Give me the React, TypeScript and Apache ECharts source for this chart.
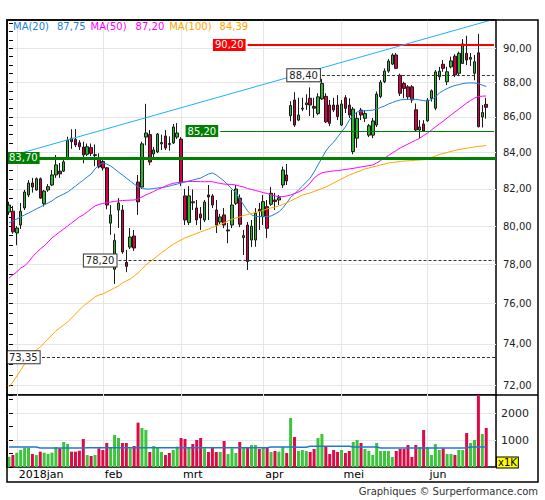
import React, { useEffect, useRef } from "react";
import * as echarts from "echarts";

// ---------- categories (trading days) ----------
const YEAR_MONTHS = ["2017-12", "2018-01", "2018-02", "2018-03", "2018-04", "2018-05", "2018-06"];
const TRADING_DAYS = [
  [28, 29],
  [2, 3, 4, 5, 8, 9, 10, 11, 12, 15, 16, 17, 18, 19, 22, 23, 24, 25, 26, 29, 30, 31],
  [1, 2, 5, 6, 7, 8, 9, 12, 13, 14, 15, 16, 19, 20, 21, 22, 23, 26, 27, 28],
  [1, 2, 5, 6, 7, 8, 9, 12, 13, 14, 15, 16, 19, 20, 21, 22, 23, 26, 27, 28, 29],
  [3, 4, 5, 6, 9, 10, 11, 12, 13, 16, 17, 18, 19, 20, 23, 24, 25, 26, 27, 30],
  [2, 3, 4, 7, 8, 9, 10, 11, 14, 15, 16, 17, 18, 21, 22, 23, 24, 25, 28, 29, 30, 31],
  [1, 4, 5, 6, 7, 8, 11, 12, 13, 14, 15, 18, 19, 20, 21, 22, 25, 26],
];
const MONTH_LABELS = ["2018jan", "feb", "mrt", "apr", "mei", "jun"];

// ---------- price data ----------
const OPEN = [
  80.75, 80.80, 79.64, 80.06, 80.97, 81.67, 82.32, 81.94, 82.55, 81.20,
  81.94, 82.21, 82.76, 82.97, 82.97, 83.69, 84.80, 84.73, 84.54, 84.30,
  83.90, 84.27, 83.83, 83.67, 83.50, 83.15, 80.16, 77.75, 80.86, 80.86,
  78.10, 78.90, 79.48, 82.37, 82.10, 84.86, 85.00, 83.92, 84.03, 84.48,
  84.92, 84.50, 84.53, 84.86, 84.75, 81.62, 80.20, 81.30, 80.97, 80.65,
  80.33, 81.67, 81.62, 80.86, 80.22, 80.60, 79.75, 80.06, 81.22, 81.50,
  79.40, 80.06, 79.27, 79.27, 80.90, 80.51, 81.04, 81.17, 81.40, 81.40,
  82.21, 82.76, 86.07, 86.97, 85.82, 86.45, 86.70, 87.07, 86.60, 86.19,
  87.03, 87.18, 86.68, 86.68, 86.68, 85.54, 87.10, 86.68, 84.05, 84.80,
  86.39, 85.92, 84.97, 84.97, 85.54, 87.17, 88.03, 88.65, 89.06, 89.60,
  88.40, 87.93, 87.73, 87.73, 86.41, 85.26, 85.60, 85.78, 87.07, 86.50,
  88.32, 89.05, 88.03, 88.90, 89.53, 88.52, 89.10, 89.70, 89.35, 88.52,
  89.73, 86.00, 86.72,
];
const HIGH = [
  81.30, 81.08, 80.00, 81.24, 81.94, 82.48, 82.60, 82.62, 82.62, 81.94,
  82.26, 83.03, 83.86, 83.42, 83.58, 84.88, 85.30, 85.31, 84.69, 84.60,
  84.50, 84.50, 84.45, 83.95, 83.70, 83.20, 81.13, 79.60, 81.50, 81.13,
  78.75, 79.90, 79.80, 82.76, 84.60, 86.75, 85.26, 84.30, 85.09, 85.00,
  85.26, 84.90, 85.60, 85.65, 84.86, 82.00, 82.15, 81.97, 81.40, 81.02,
  81.40, 82.21, 81.72, 81.40, 80.65, 80.97, 80.17, 81.94, 82.21, 81.70,
  79.80, 80.22, 80.33, 80.96, 81.24, 81.67, 81.40, 82.10, 81.78, 81.67,
  83.22, 83.36, 86.90, 87.42, 87.10, 87.10, 87.30, 87.70, 87.10, 87.36,
  88.20, 87.36, 86.97, 87.10, 87.25, 86.97, 87.25, 87.07, 86.57, 86.28,
  86.51, 86.39, 85.60, 85.94, 87.46, 88.12, 88.81, 89.36, 89.70, 89.72,
  88.50, 88.03, 87.83, 87.83, 86.77, 85.82, 85.82, 87.08, 87.58, 88.71,
  88.90, 89.30, 88.90, 89.50, 89.65, 89.80, 90.55, 90.75, 89.72, 89.60,
  90.86, 86.68, 87.09,
];
const LOW = [
  80.60, 79.60, 79.00, 79.85, 80.86, 81.56, 81.80, 81.90, 81.45, 81.05,
  81.84, 82.15, 82.60, 82.60, 82.92, 83.58, 84.20, 84.30, 84.14, 83.40,
  83.80, 83.80, 83.25, 83.12, 83.00, 80.90, 79.54, 77.00, 79.90, 78.55,
  77.60, 78.80, 78.70, 80.60, 82.00, 84.40, 83.30, 83.58, 83.97, 84.14,
  84.14, 84.10, 84.47, 84.75, 82.15, 80.06, 80.06, 80.86, 80.06, 79.80,
  80.22, 80.33, 80.97, 79.64, 80.11, 79.90, 79.10, 79.90, 81.13, 79.95,
  78.49, 77.71, 78.90, 78.92, 79.80, 80.06, 79.38, 81.08, 80.86, 81.13,
  82.05, 82.21, 85.76, 85.43, 85.76, 86.33, 86.40, 86.05, 85.95, 86.10,
  86.97, 85.65, 85.48, 86.28, 85.82, 85.48, 86.22, 85.94, 83.90, 84.26,
  85.82, 85.71, 84.86, 84.80, 85.43, 87.07, 87.95, 88.55, 89.00, 88.77,
  87.20, 87.07, 86.97, 86.80, 85.17, 84.80, 85.17, 85.72, 86.88, 86.39,
  88.12, 88.61, 87.83, 88.81, 88.30, 88.42, 89.06, 89.00, 88.95, 88.12,
  85.40, 85.40, 85.90,
];
const CLOSE = [
  81.13, 79.70, 79.90, 80.80, 81.83, 82.32, 82.10, 82.55, 81.50, 81.88,
  82.12, 82.76, 83.31, 82.82, 83.48, 84.69, 84.60, 84.42, 84.32, 83.86,
  84.32, 83.95, 83.88, 83.20, 83.14, 81.13, 80.60, 79.25, 81.24, 78.65,
  77.90, 79.43, 78.85, 81.30, 84.48, 85.09, 83.47, 84.14, 85.03, 84.56,
  84.25, 84.45, 85.43, 85.09, 82.37, 80.33, 81.62, 81.25, 80.33, 80.44,
  81.29, 81.56, 81.13, 80.06, 80.49, 80.06, 79.80, 81.13, 81.99, 80.10,
  79.50, 78.15, 80.00, 80.69, 80.80, 81.31, 79.89, 81.76, 81.32, 81.52,
  83.03, 82.43, 86.65, 85.54, 86.11, 86.50, 86.80, 86.68, 86.50, 87.15,
  87.93, 85.72, 85.64, 86.40, 86.02, 86.74, 86.49, 86.11, 86.45, 85.92,
  86.11, 86.20, 85.50, 85.77, 87.31, 88.00, 88.65, 89.24, 89.60, 88.81,
  87.36, 87.64, 87.15, 86.97, 85.26, 85.43, 85.20, 86.97, 87.50, 88.60,
  88.65, 88.81, 88.61, 89.25, 88.42, 89.70, 90.26, 89.30, 89.45, 89.20,
  85.45, 86.25, 86.55,
];

const MA20 = [
  80.17, 80.28, 80.38, 80.49, 80.60, 80.70, 80.81, 80.92, 81.02, 81.13,
  81.24, 81.35, 81.51, 81.62, 81.72, 81.83, 81.99, 82.15, 82.32, 82.48,
  82.65, 82.81, 83.09, 83.31, 83.42, 83.36, 83.25, 83.09, 82.92, 82.76,
  82.59, 82.43, 82.26, 82.10, 82.05, 81.99, 81.99, 82.02, 82.05, 82.07,
  82.10, 82.15, 82.21, 82.26, 82.32, 82.37, 82.43, 82.48, 82.54, 82.59,
  82.70, 82.81, 82.87, 82.76, 82.59, 82.43, 82.21, 81.99, 81.78, 81.46,
  81.13, 80.81, 80.60, 80.52, 80.51, 80.51, 80.51, 80.54, 80.65, 80.76,
  80.97, 81.24, 81.54, 81.72, 81.94, 82.15, 82.37, 82.59, 82.92, 83.31,
  83.69, 84.08, 84.36, 84.58, 84.86, 85.15, 85.43, 85.82, 86.11, 86.28,
  86.33, 86.35, 86.37, 86.39, 86.45, 86.54, 86.62, 86.74, 86.82, 86.91,
  86.97, 87.00, 87.01, 87.01, 87.00, 86.97, 86.93, 86.91, 87.00, 87.14,
  87.37, 87.51, 87.63, 87.73, 87.81, 87.86, 87.92, 87.95, 87.96, 87.95,
  87.92, 87.83, 87.75,
];
const MA50 = [
  77.30, 77.46, 77.61, 77.82, 77.92, 78.13, 78.39, 78.60, 78.80, 78.96,
  79.17, 79.38, 79.54, 79.70, 79.85, 80.01, 80.17, 80.33, 80.49, 80.60,
  80.76, 80.92, 81.08, 81.16, 81.21, 81.26, 81.29, 81.32, 81.35, 81.37,
  81.38, 81.39, 81.40, 81.45, 81.56, 81.67, 81.76, 81.86, 81.97, 82.05,
  82.15, 82.24, 82.30, 82.34, 82.37, 82.39, 82.40, 82.40, 82.40, 82.39,
  82.39, 82.39, 82.39, 82.34, 82.30, 82.26, 82.25, 82.24, 82.21, 82.15,
  82.10, 82.02, 81.97, 81.91, 81.86, 81.80, 81.75, 81.67, 81.62, 81.58,
  81.58, 81.62, 81.67, 81.75, 81.83, 81.94, 82.10, 82.32, 82.59, 82.76,
  82.87, 82.92, 82.95, 82.98, 83.00, 83.03, 83.06, 83.09, 83.12, 83.16,
  83.20, 83.23, 83.27, 83.31, 83.42, 83.55, 83.69, 83.83, 83.97, 84.11,
  84.25, 84.36, 84.47, 84.58, 84.69, 84.80, 84.95, 85.09, 85.26, 85.43,
  85.60, 85.76, 85.94, 86.11, 86.28, 86.45, 86.62, 86.80, 86.94, 87.08,
  87.17, 87.19, 87.20,
];
const MA100 = [
  71.92, 72.16, 72.44, 72.73, 73.02, 73.32, 73.51, 73.70, 73.85, 74.04,
  74.24, 74.44, 74.64, 74.79, 74.94, 75.08, 75.28, 75.48, 75.68, 75.88,
  76.03, 76.18, 76.34, 76.44, 76.49, 76.59, 76.69, 76.80, 76.90, 77.05,
  77.15, 77.25, 77.40, 77.56, 77.77, 77.97, 78.13, 78.28, 78.44, 78.60,
  78.75, 78.91, 79.04, 79.17, 79.27, 79.38, 79.46, 79.54, 79.62, 79.70,
  79.77, 79.85, 79.93, 80.01, 80.09, 80.17, 80.28, 80.36, 80.44, 80.49,
  80.57, 80.62, 80.68, 80.73, 80.78, 80.84, 80.92, 80.97, 81.02, 81.08,
  81.16, 81.24, 81.35, 81.45, 81.56, 81.67, 81.72, 81.78, 81.86, 81.94,
  82.02, 82.10, 82.21, 82.32, 82.43, 82.54, 82.65, 82.76, 82.84, 82.92,
  83.00, 83.09, 83.14, 83.20, 83.25, 83.31, 83.36, 83.42, 83.44, 83.47,
  83.50, 83.53, 83.54, 83.55, 83.57, 83.58, 83.60, 83.64, 83.72, 83.80,
  83.89, 83.94, 84.00, 84.06, 84.11, 84.16, 84.20, 84.24, 84.28, 84.31,
  84.34, 84.36, 84.39,
];

// ---------- volume data (x1000) ----------
const VOLUME = [
  383, 444, 531, 630, 716, 716, 481, 444, 568, 531,
  481, 531, 741, 691, 926, 852, 568, 568, 605, 1037,
  444, 407, 444, 691, 630, 889, 716, 1185, 1074, 889,
  889, 691, 778, 1642, 1444, 1370, 556, 778, 741, 556,
  444, 519, 630, 753, 1074, 1037, 716, 852, 1000, 1074,
  691, 556, 741, 556, 556, 963, 481, 691, 519, 926,
  741, 741, 815, 815, 667, 741, 716, 556, 593, 568,
  741, 519, 1815, 1111, 593, 630, 593, 556, 667, 1074,
  1222, 753, 481, 630, 556, 630, 519, 593, 926, 1000,
  889, 667, 593, 444, 889, 593, 593, 593, 370, 593,
  667, 667, 815, 370, 815, 741, 1370, 741, 444, 852,
  630, 691, 481, 481, 444, 630, 630, 1259, 889, 1000,
  2750, 1222, 1444,
];
const VOLUME_AVG = [
  741, 741, 741, 741, 741, 741, 741, 741, 704, 704,
  704, 704, 704, 704, 704, 704, 704, 704, 704, 704,
  716, 716, 716, 716, 716, 716, 716, 716, 716, 716,
  716, 716, 716, 716, 716, 716, 716, 716, 716, 716,
  716, 716, 716, 716, 716, 716, 716, 716, 716, 716,
  716, 716, 716, 716, 716, 716, 716, 716, 716, 716,
  716, 716, 716, 716, 716, 716, 716, 741, 741, 741,
  741, 741, 741, 741, 728, 728, 728, 765, 765, 765,
  765, 765, 765, 765, 765, 765, 765, 765, 741, 741,
  741, 741, 741, 741, 741, 704, 704, 704, 704, 704,
  704, 704, 704, 704, 704, 704, 704, 704, 704, 704,
  704, 704, 704, 704, 704, 704, 704, 704, 741, 741,
  741, 741, 741,
];

// ---------- axes ----------
const PRICE_MIN = 71.54;
const PRICE_MAX = 91.7;
const PRICE_LABELS = [72, 74, 76, 78, 80, 82, 84, 86, 88, 90];
const PRICE_TICKS = [
  72, 72.5, 73, 73.5, 74, 74.5, 75, 75.5, 76, 76.5, 77, 77.5, 78, 78.5, 79, 79.5,
  80, 80.5, 81, 81.5, 82, 82.5, 83, 83.5, 84, 84.5, 85, 85.5, 86, 86.5, 87, 87.5,
  88, 88.5, 89, 89.5, 90, 90.5, 91, 91.5,
];
const VOL_MAX = 2667;
const VOL_LABELS = [1000, 2000];

// ---------- levels & trend ----------
const LEVEL_VALUES = [90.2, 88.4, 85.2, 83.7, 78.2, 73.35];
const LEVEL_FROM = [61, 80, 54, null, 28, null];
const LEVEL_KIND = ["red", "dash", "green", "greenBold", "dash", "dash"];
const TREND_FROM = [0, 83.78];
const TREND_TO = [123, 91.68];

const FONT = "DejaVu Sans";
const C_UP = "#2fb52f";
const C_DOWN = "#d80040";
const C_VUP = "#3cc43c";
const C_VDOWN = "#dc0a46";
const C_MA20 = "#1f7fd8";
const C_MA50 = "#ff00ff";
const C_MA100 = "#ffa500";
const C_GRID = "#e6e6e6";

const fmt = (v) => Number(v).toFixed(2).replace(".", ",");

const LEVEL_STYLE = {
  red: { line: { color: "#ff0000", width: 2, type: "solid" }, label: { backgroundColor: "#ff0000", color: "#ffffff" } },
  green: { line: { color: "#008000", width: 1, type: "solid" }, label: { backgroundColor: "#008000", color: "#ffffff" } },
  greenBold: { line: { color: "#008000", width: 3, type: "solid" }, label: { backgroundColor: "#008000", color: "#ffffff" } },
  dash: {
    line: { color: "#333333", width: 1, type: [3, 2] },
    label: { backgroundColor: "#ffffff", color: "#222222", borderColor: "#333333", borderWidth: 1 },
  },
};

function buildOption() {
  const categories = YEAR_MONTHS.flatMap((ym, m) =>
    TRADING_DAYS[m].map((d) => `${ym}-${String(d).padStart(2, "0")}`)
  );
  const monthStart = YEAR_MONTHS.slice(1).map((ym) => categories.findIndex((c) => c.startsWith(ym)));
  const nSlots = categories.length;
  const lastSlot = nSlots - 1;

  const candles = OPEN.map((o, i) => [o, CLOSE[i], LOW[i], HIGH[i]]);
  const volumes = VOLUME.map((v, i) => ({
    value: v,
    itemStyle: { color: CLOSE[i] >= OPEN[i] ? C_VUP : C_VDOWN },
  }));

  const levelLines = LEVEL_VALUES.map((v, i) => {
    const st = LEVEL_STYLE[LEVEL_KIND[i]];
    const baseLabel = {
      show: true,
      formatter: fmt(v),
      fontSize: 10,
      fontFamily: FONT,
      lineHeight: 11,
      padding: [1, 2, 0, 2],
      ...st.label,
    };
    if (LEVEL_FROM[i] == null) {
      return {
        yAxis: v,
        lineStyle: st.line,
        label: { ...baseLabel, position: "insideStartTop", distance: [0, 0], verticalAlign: "middle", align: "left" },
      };
    }
    return [
      { coord: [LEVEL_FROM[i], v], lineStyle: st.line, label: { ...baseLabel, position: "start", distance: 2 } },
      { coord: [lastSlot, v] },
    ];
  });
  const trend = [
    { coord: TREND_FROM, lineStyle: { color: "#1ab4f5", width: 1, type: "solid" }, label: { show: false } },
    { coord: TREND_TO },
  ];

  const last = (a) => a[a.length - 1];

  return {
    animation: false,
    textStyle: { fontFamily: FONT },
    title: {
      left: 13,
      top: 21,
      padding: 0,
      text:
        `{a|MA(20)}{av|${fmt(last(MA20))}}` +
        `{b|MA(50)}{bv|${fmt(last(MA50))}}` +
        `{c|MA(100)}{cv|${fmt(last(MA100))}}`,
      textStyle: {
        fontSize: 10,
        fontWeight: "normal",
        fontFamily: FONT,
        rich: {
          a: { color: C_MA20, fontSize: 10, fontFamily: FONT },
          av: { color: C_MA20, fontSize: 10, fontFamily: FONT, padding: [0, 5, 0, 8] },
          b: { color: C_MA50, fontSize: 10, fontFamily: FONT },
          bv: { color: C_MA50, fontSize: 10, fontFamily: FONT, padding: [0, 5, 0, 9] },
          c: { color: C_MA100, fontSize: 10, fontFamily: FONT },
          cv: { color: C_MA100, fontSize: 10, fontFamily: FONT, padding: [0, 0, 0, 8] },
        },
      },
    },
    grid: [
      { left: 7, top: 20, width: 489, height: 375, show: true, borderColor: "#000", borderWidth: 1.5, backgroundColor: "#fff" },
      { left: 7, top: 395, width: 489, height: 72, show: true, borderColor: "#000", borderWidth: 1.5, backgroundColor: "#fff" },
    ],
    xAxis: [
      { type: "category", gridIndex: 0, data: categories, boundaryGap: true, show: false },
      { type: "category", gridIndex: 1, data: categories, boundaryGap: true, show: false, position: "top" },
      {
        type: "value", gridIndex: 0, min: -0.5, max: nSlots - 0.5, position: "bottom",
        axisLine: { show: false },
        axisTick: { show: false, customValues: monthStart },
        axisLabel: { show: false },
        splitLine: { show: true, lineStyle: { color: C_GRID, width: 1 } },
      },
      {
        type: "value", gridIndex: 1, min: -0.5, max: nSlots - 0.5, position: "bottom",
        axisLine: { show: false },
        axisTick: { show: false, customValues: monthStart },
        axisLabel: {
          show: true,
          customValues: monthStart,
          formatter: (v) => MONTH_LABELS[monthStart.indexOf(Math.round(v))] || "",
          align: "left",
          color: "#000",
          fontSize: 11,
          fontFamily: FONT,
          margin: 2,
          padding: [0, 0, 0, 2],
        },
        splitLine: { show: true, lineStyle: { color: C_GRID, width: 1 } },
      },
    ],
    yAxis: [
      {
        type: "log", gridIndex: 0, min: PRICE_MIN, max: PRICE_MAX, position: "right",
        axisLine: { show: false },
        axisTick: { show: true, customValues: PRICE_TICKS, length: 4, lineStyle: { color: "#000" } },
        axisLabel: { customValues: PRICE_LABELS, formatter: (v) => fmt(v), color: "#222", fontSize: 10, fontFamily: FONT, margin: 7 },
        splitLine: { show: false },
      },
      {
        type: "log", gridIndex: 0, min: PRICE_MIN, max: PRICE_MAX, position: "left",
        axisLine: { show: false },
        axisTick: { show: false, customValues: PRICE_LABELS },
        axisLabel: { show: false },
        splitLine: { show: true, lineStyle: { color: C_GRID, width: 1 } },
      },
      {
        type: "value", gridIndex: 1, min: 0, max: VOL_MAX, interval: 500, position: "right",
        axisLine: { show: false },
        axisTick: { show: true, length: 4, lineStyle: { color: "#000" } },
        axisLabel: { customValues: VOL_LABELS, formatter: (v) => String(v), color: "#222", fontSize: 11, fontFamily: FONT, margin: 5 },
        splitLine: { show: false },
      },
      {
        type: "value", gridIndex: 1, min: 0, max: VOL_MAX, position: "left",
        axisLine: { show: false },
        axisTick: { show: false, customValues: VOL_LABELS },
        axisLabel: { show: false },
        splitLine: { show: true, lineStyle: { color: C_GRID, width: 1 } },
      },
    ],
    series: [
      {
        type: "candlestick",
        xAxisIndex: 0,
        yAxisIndex: 0,
        data: candles,
        barWidth: 3,
        itemStyle: { color: C_UP, color0: C_DOWN, borderColor: "#1a1a1a", borderColor0: "#1a1a1a", borderWidth: 1 },
        markLine: {
          silent: true,
          animation: false,
          symbol: ["none", "none"],
          data: [...levelLines, trend],
        },
      },
      { type: "line", name: "MA(20)", xAxisIndex: 0, yAxisIndex: 0, data: MA20, showSymbol: false, symbol: "none", lineStyle: { color: C_MA20, width: 1 }, itemStyle: { color: C_MA20 } },
      { type: "line", name: "MA(50)", xAxisIndex: 0, yAxisIndex: 0, data: MA50, showSymbol: false, symbol: "none", lineStyle: { color: C_MA50, width: 1 }, itemStyle: { color: C_MA50 } },
      { type: "line", name: "MA(100)", xAxisIndex: 0, yAxisIndex: 0, data: MA100, showSymbol: false, symbol: "none", lineStyle: { color: C_MA100, width: 1 }, itemStyle: { color: C_MA100 } },
      { type: "bar", xAxisIndex: 1, yAxisIndex: 2, data: volumes, barWidth: 3 },
      { type: "line", xAxisIndex: 1, yAxisIndex: 2, data: VOLUME_AVG, showSymbol: false, symbol: "none", lineStyle: { color: "#1f78d8", width: 1.5 }, itemStyle: { color: "#1f78d8" } },
    ],
    graphic: [
      { type: "rect", silent: true, z: 100, shape: { x: 7, y: 20, width: 531, height: 462 }, style: { fill: "none", stroke: "#000", lineWidth: 1.5 } },
      { type: "line", silent: true, z: 100, shape: { x1: 496, y1: 395, x2: 538, y2: 395 }, style: { stroke: "#000", lineWidth: 1.5 } },
      {
        type: "text", silent: true, z: 100, x: 497, y: 457.5,
        style: { text: "x1K", fill: "#000", backgroundColor: "#ffff00", borderColor: "#000", borderWidth: 1, padding: [0, 1, 0, 1], fontSize: 10, lineHeight: 10, fontFamily: FONT },
      },
      {
        type: "text", silent: true, z: 100, x: 538, y: 491,
        style: { text: "Graphiques © Surperformance.com", fill: "#333", align: "right", verticalAlign: "middle", fontSize: 10, fontFamily: FONT },
      },
    ],
  };
}

export default function App() {
  const ref = useRef(null);
  useEffect(() => {
    document.body.style.margin = "0";
    const chart = echarts.init(ref.current, null, { renderer: "svg" });
    chart.setOption(buildOption());
    return () => chart.dispose();
  }, []);
  return <div ref={ref} style={{ width: 545, height: 500, background: "#fff" }} />;
}
